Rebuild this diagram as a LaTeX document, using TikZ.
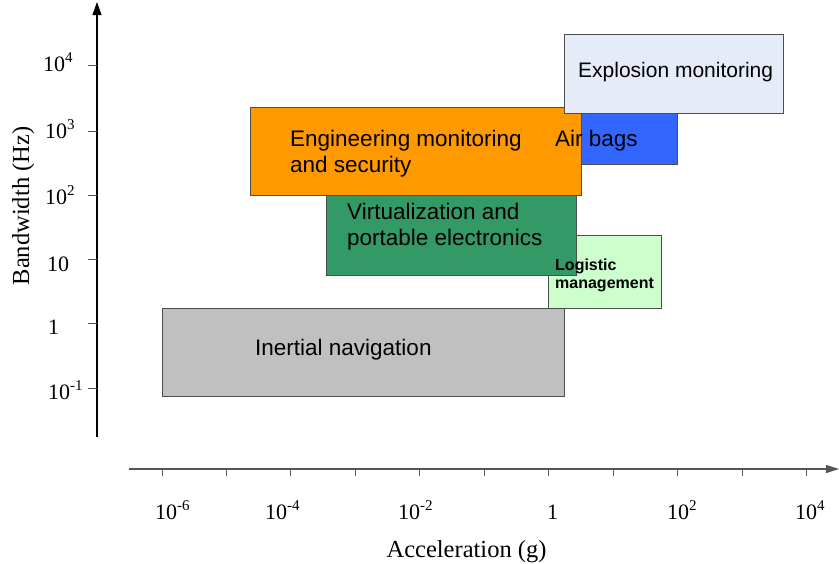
\documentclass[tikz,border=0pt]{standalone}
\usepackage{fontspec}
\setmainfont{Liberation Serif}
\newfontfamily\arialf{Liberation Sans}
\usetikzlibrary{arrows.meta}
\definecolor{boxedge}{HTML}{4D4D4D}
\definecolor{axisgray}{HTML}{555555}
\definecolor{explfill}{HTML}{E6ECF7}
\definecolor{bagfill}{HTML}{3366FF}
\definecolor{engfill}{HTML}{FF9900}
\definecolor{virtfill}{HTML}{339966}
\definecolor{logifill}{HTML}{CCFFCC}
\definecolor{inerfill}{HTML}{C0C0C0}
% raised exponent for the decade labels
\newcommand{\expo}[1]{\raisebox{9pt}{\fontsize{15}{15}\selectfont #1}}
\begin{document}
\begin{tikzpicture}[x=1pt,y=-1pt,
  region/.style={draw=boxedge, line width=0.9pt},
  boxtext/.style={anchor=base west, inner sep=0pt, align=left,
    font=\arialf\fontsize{22.5}{25.5}\selectfont},
  ticklabel/.style={anchor=base west, inner sep=0pt, font=\fontsize{22}{22}\selectfont},
  axistitle/.style={anchor=base, inner sep=0pt, font=\fontsize{24.5}{24.5}\selectfont},
  tickmark/.style={line width=0.9pt, draw=axisgray},
]
\useasboundingbox (0,0) rectangle (839,563);

% application regions, back to front
\draw[region, fill=inerfill] (162,308) rectangle (564,396);
\draw[region, fill=logifill] (548,235) rectangle (661,308);
\draw[region, fill=virtfill] (326,195) rectangle (576,275);
\draw[region, fill=bagfill]  (560,110) rectangle (677,164);
\draw[region, fill=engfill]  (250,107) rectangle (581,195);
\draw[region, fill=explfill] (564,34)  rectangle (783,113);

% region labels (multi-line nodes sit on the baseline of their last line)
\node[boxtext, font=\arialf\fontsize{21}{24}\selectfont] (expl) at (578,77) {Explosion monitoring};
\node[boxtext] (bags) at (555,146) {Air bags};
\node[boxtext] (eng) at (290,172) {Engineering monitoring\\and security};
\node[boxtext, font=\arialf\fontsize{22.5}{26}\selectfont] (virt) at (347,245) {Virtualization and\\portable electronics};
\node[boxtext, font=\arialf\bfseries\fontsize{16}{18}\selectfont] (logi) at (555,288) {Logistic\\management};
\node[boxtext] (iner) at (255,355) {Inertial navigation};

% axes
\coordinate (ybot) at (97,437);
\coordinate (ytop) at (97,2);
\coordinate (xleft) at (129,469);
\coordinate (xright) at (839,469);
\draw[line width=1.1pt, -{Triangle[length=13pt,width=9pt]}] (ybot) -- (ytop);
\draw[line width=1.1pt, draw=axisgray, -{Triangle[length=13pt,width=8pt]}] (xleft) -- (xright);

% bandwidth decades
\foreach \yy in {65,131,195,259,323,388}
  \draw[tickmark] (88,\yy) -- (97,\yy);
\node[ticklabel] (y4) at (43,71)  {10\expo{4}};
\node[ticklabel] (y3) at (45,138) {10\expo{3}};
\node[ticklabel] (y2) at (45,204) {10\expo{2}};
\node[ticklabel] (y1) at (47,271) {10};
\node[ticklabel] (y0) at (48,334) {1};
\node[ticklabel] (ym1) at (48,399) {10\expo{-1}};

% acceleration decades
\foreach \xx in {162,226,290,355,419,484,548,613,677,742,806}
  \draw[tickmark] (\xx,469) -- (\xx,476);
\node[ticklabel] (x6) at (155,519) {10\expo{-6}};
\node[ticklabel] (x4) at (265,519) {10\expo{-4}};
\node[ticklabel] (x2) at (398,519) {10\expo{-2}};
\node[ticklabel] (x0) at (547,519) {1};
\node[ticklabel] (xp2) at (667,519) {10\expo{2}};
\node[ticklabel] (xp4) at (795,519) {10\expo{4}};

% axis titles
\node[axistitle] (xtitle) at (466.5,557) {Acceleration (g)};
\node[axistitle, rotate=90] (ytitle) at (29,206) {Bandwidth (Hz)};
\end{tikzpicture}
\end{document}
